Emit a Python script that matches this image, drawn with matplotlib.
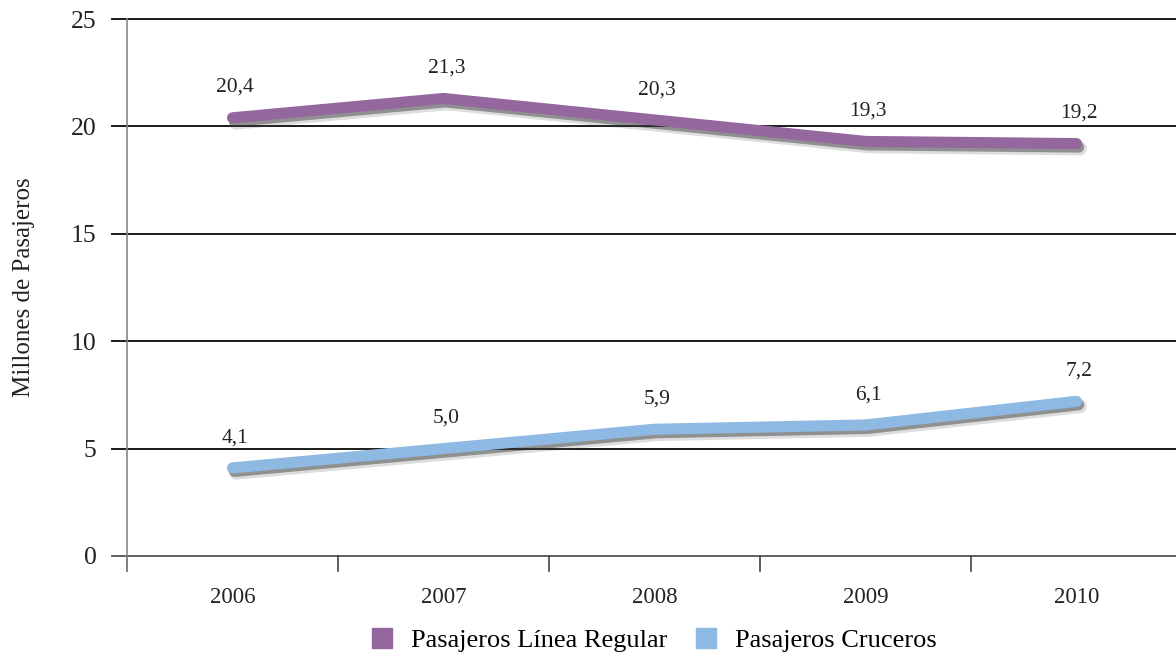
import matplotlib
matplotlib.use("Agg")
import matplotlib.pyplot as plt
import matplotlib.patheffects as pe
from matplotlib.lines import Line2D

years = ["2006", "2007", "2008", "2009", "2010"]
regular = [20.4, 21.3, 20.3, 19.3, 19.2]
cruceros = [4.1, 5.0, 5.9, 6.1, 7.2]
regular_labels = ["20,4", "21,3", "20,3", "19,3", "19,2"]
cruceros_labels = ["4,1", "5,0", "5,9", "6,1", "7,2"]
y_ticks = [0, 5, 10, 15, 20, 25]

purple = "#94679f"
blue = "#8db9e2"

plt.rcParams["font.family"] = ["Liberation Serif", "DejaVu Serif"]

fig = plt.figure(figsize=(11.76, 6.57), dpi=100, facecolor="white")
ax = fig.add_axes([127 / 1176, 1 - 556 / 657, (1182 - 127) / 1176, (556 - 19) / 657])

x = list(range(len(years)))
shadow = [
    pe.SimpleLineShadow(offset=(2.5, -3.5), shadow_color="#555555", alpha=0.2, linewidth=10),
    pe.SimpleLineShadow(offset=(1.5, -2.5), shadow_color="#333333", alpha=0.45),
    pe.Normal(),
]
ax.plot(x, regular, color=purple, lw=8, solid_capstyle="round", solid_joinstyle="round",
        path_effects=shadow, zorder=4)
ax.plot(x, cruceros, color=blue, lw=8, solid_capstyle="round", solid_joinstyle="round",
        path_effects=shadow, zorder=4)

for xi, v, lab in zip(x, regular, regular_labels):
    ax.annotate(lab, (xi, v), xytext=(2, 15), textcoords="offset points",
                ha="center", va="bottom", fontsize=15.5, color="#222222")
for xi, v, lab in zip(x, cruceros, cruceros_labels):
    ax.annotate(lab, (xi, v), xytext=(2, 15), textcoords="offset points",
                ha="center", va="bottom", fontsize=15.5, color="#222222")

ax.set_xlim(-0.5, 4.5)
ax.set_ylim(0, 25)
ax.set_yticks(y_ticks)
ax.set_yticklabels([str(t) for t in y_ticks], fontsize=18.5, color="#222222")
for t in y_ticks[1:]:
    ax.axhline(t, color="#1a1a1a", lw=1.4, zorder=2, xmin=-15 / 1055, clip_on=False)
ax.axhline(0, color="#444444", lw=1.2, zorder=2, xmin=-15 / 1055, clip_on=False)
ax.tick_params(axis="y", length=0, pad=22)

ax.set_xticks(x)
ax.set_xticklabels(years, fontsize=16.5, color="#222222")
ax.tick_params(axis="x", length=0, pad=22)
for b in [-0.5, 0.5, 1.5, 2.5, 3.5]:
    ax.add_line(Line2D([b, b], [0, -0.7], color="#444444", lw=1.2, clip_on=False))

for side in ["top", "right", "bottom"]:
    ax.spines[side].set_visible(False)
ax.spines["left"].set_color("#888888")
ax.spines["left"].set_linewidth(1.2)
ax.spines["left"].set_bounds(-0.7, 25)

ax.set_ylabel("Millones de Pasajeros", fontsize=18, color="#222222")
ax.yaxis.set_label_coords(-92 / 1055, 0.5)

handles = [
    Line2D([], [], marker="s", ls="none", color=purple, markersize=14),
    Line2D([], [], marker="s", ls="none", color=blue, markersize=14),
]
fig.legend(handles, ["Pasajeros Línea Regular", "Pasajeros Cruceros"],
           loc="center", bbox_to_anchor=(646 / 1176, 1 - 640 / 657), ncol=2,
           frameon=False, fontsize=19, handletextpad=0.1, columnspacing=0.45)

fig.savefig("out.png", dpi=100, facecolor="white")
